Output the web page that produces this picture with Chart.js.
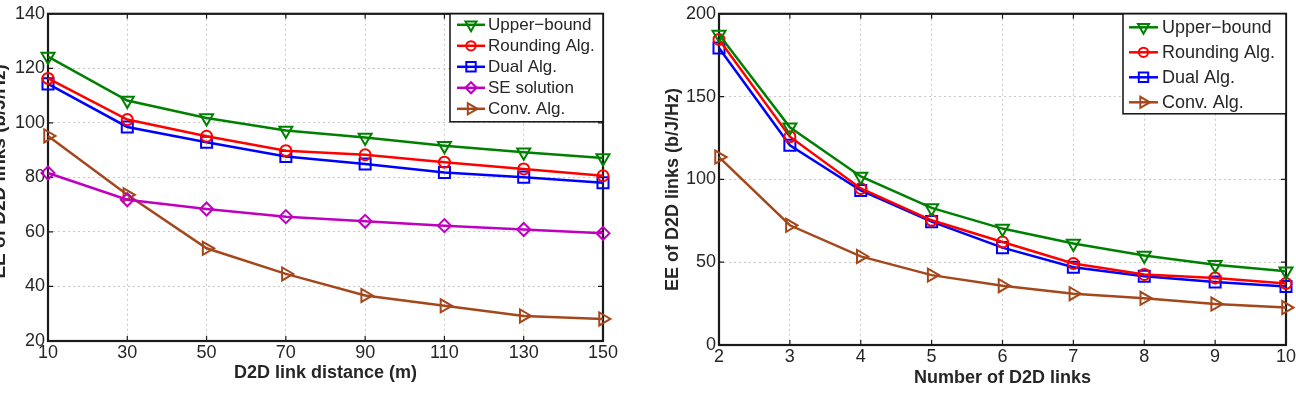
<!DOCTYPE html>
<html>
<head>
<meta charset="utf-8">
<script src="https://cdn.jsdelivr.net/npm/chart.js@4.4.1/dist/chart.umd.min.js"></script>
<style>
  html, body { margin: 0; padding: 0; background: #fff; overflow: hidden; }
  body { width: 1296px; height: 393px; position: relative; }
  .panel { position: absolute; top: 0; }
  #left-panel { left: 0; }
  #right-panel { left: 648px; }
</style>
</head>
<body>
<div class="panel" id="left-panel"><canvas id="distChart" width="648" height="393"></canvas></div>
<div class="panel" id="right-panel"><canvas id="numChart" width="670" height="393"></canvas></div>
<script>
// left plot: EE vs D2D link distance
const distances = [10, 30, 50, 70, 90, 110, 130, 150];
const upperDist = [124.3, 108.2, 101.8, 97.2, 94.6, 91.6, 89.2, 87.1];
const roundDist = [116.3, 101.2, 95.1, 89.8, 88.3, 85.6, 83.1, 80.6];
const dualDist = [114.3, 98.5, 92.9, 87.7, 84.9, 81.8, 80.1, 78.0];
const seDist = [81.6, 71.8, 68.4, 65.6, 63.9, 62.3, 60.9, 59.5];
const convDist = [95.2, 73.6, 54.0, 44.6, 36.7, 32.9, 29.2, 28.1];

// right plot: EE vs number of D2D links
const linkCounts = [2, 3, 4, 5, 6, 7, 8, 9, 10];
const upperNum = [187.5, 131.5, 101.8, 82.8, 70.3, 61.3, 54.0, 48.5, 44.5];
const roundNum = [184.5, 125.8, 94.5, 75.3, 62.2, 49.2, 42.6, 40.5, 37.2];
const dualNum = [179.3, 120.6, 93.3, 74.5, 58.8, 47.0, 41.5, 38.1, 35.3];
const convNum = [113.5, 72.3, 53.5, 42.2, 35.8, 31.0, 28.2, 24.7, 22.6];

const FONT = "'Liberation Sans', Arial, Helvetica, sans-serif";
const TEXT = '#262626';

const SERIES = {
    upper: { label: 'Upper\u2212bound', color: '#008000', style: 'triangle', rot: 180, r: 7.5 },
    round: { label: 'Rounding Alg.', color: '#ff0000', style: 'circle', rot: 0, r: 5.5 },
    dual: { label: 'Dual Alg.', color: '#0000ff', style: 'rect', rot: 0, r: 7.8 },
    se: { label: 'SE solution', color: '#c000c0', style: 'rectRot', rot: 0, r: 6.5 },
    conv: { label: 'Conv. Alg.', color: '#a4481c', style: 'triangle', rot: 90, r: 7.5 }
};

function makeDataset(key, xs, ys) {
    const s = SERIES[key];
    return {
        label: s.label,
        data: xs.map((x, i) => ({ x: x, y: ys[i] })),
        borderColor: s.color,
        backgroundColor: 'rgba(0,0,0,0)',
        borderWidth: 2.5,
        pointStyle: s.style,
        pointRotation: s.rot,
        pointRadius: s.r,
        pointBorderWidth: 2,
        pointBackgroundColor: 'rgba(0,0,0,0)',
        pointBorderColor: s.color,
        tension: 0,
        clip: false
    };
}

// black box + inward tick marks, drawn under the data like matlab
const boxPlugin = {
    id: 'matlabBox',
    beforeDatasetsDraw(chart) {
        const { ctx, chartArea: a, scales } = chart;
        ctx.save();
        ctx.strokeStyle = '#1a1a1a';
        ctx.lineWidth = 1.2;
        ctx.beginPath();
        scales.x.ticks.forEach(t => {
            const px = scales.x.getPixelForValue(t.value);
            ctx.moveTo(px, a.bottom); ctx.lineTo(px, a.bottom - 5);
            ctx.moveTo(px, a.top); ctx.lineTo(px, a.top + 5);
        });
        scales.y.ticks.forEach(t => {
            const py = scales.y.getPixelForValue(t.value);
            ctx.moveTo(a.left, py); ctx.lineTo(a.left + 5, py);
            ctx.moveTo(a.right, py); ctx.lineTo(a.right - 5, py);
        });
        ctx.stroke();
        ctx.lineWidth = 2.2;
        ctx.strokeRect(a.left, a.top, a.right - a.left, a.bottom - a.top);
        ctx.restore();
    }
};

// rotated y title (left one runs off the page edge in the original)
const yTitlePlugin = {
    id: 'yTitle',
    afterDraw(chart, args, opts) {
        const { ctx, chartArea: a } = chart;
        ctx.save();
        ctx.translate(opts.x, (a.top + a.bottom) / 2 + opts.dy);
        ctx.rotate(-Math.PI / 2);
        ctx.font = `bold ${opts.size}px ${FONT}`;
        ctx.fillStyle = TEXT;
        ctx.textAlign = 'center';
        ctx.textBaseline = 'alphabetic';
        ctx.fillText(opts.text, 0, 0);
        ctx.restore();
    }
};

// boxed legend in the top right corner of the axes
const boxLegendPlugin = {
    id: 'boxLegend',
    afterDraw(chart, args, opts) {
        const { ctx, chartArea: a } = chart;
        const left = a.right - opts.width;
        const top = a.top;
        ctx.save();
        ctx.fillStyle = '#fff';
        ctx.fillRect(left, top, opts.width, opts.height);
        ctx.strokeStyle = '#111';
        ctx.lineWidth = 1.5;
        ctx.strokeRect(left, top, opts.width, opts.height);
        chart.data.datasets.forEach((ds, i) => {
            const y = top + opts.first + i * opts.step;
            const x0 = left + opts.lineFrom;
            const x1 = left + opts.lineTo;
            ctx.strokeStyle = ds.borderColor;
            ctx.lineWidth = ds.borderWidth;
            ctx.beginPath();
            ctx.moveTo(x0, y);
            ctx.lineTo(x1, y);
            ctx.stroke();
            ctx.fillStyle = 'rgba(0,0,0,0)';
            ctx.lineWidth = ds.pointBorderWidth;
            Chart.helpers.drawPoint(ctx, {
                pointStyle: ds.pointStyle,
                rotation: ds.pointRotation,
                radius: ds.pointRadius * 0.85,
                borderWidth: ds.pointBorderWidth
            }, (x0 + x1) / 2, y);
            ctx.fillStyle = TEXT;
            ctx.font = `${opts.size}px ${FONT}`;
            ctx.textAlign = 'left';
            ctx.textBaseline = 'middle';
            ctx.fillText(ds.label, left + opts.textX, y + 1);
        });
        ctx.restore();
    }
};

function makeChart(canvasId, cfg) {
    const ctx = document.getElementById(canvasId).getContext('2d');
    return new Chart(ctx, {
        type: 'line',
        data: { datasets: cfg.datasets },
        options: {
            responsive: false,
            animation: false,
            devicePixelRatio: 1,
            layout: { padding: cfg.padding },
            plugins: {
                legend: { display: false },
                tooltip: { enabled: false },
                yTitle: cfg.yTitle,
                boxLegend: cfg.legend
            },
            scales: {
                x: {
                    type: 'linear',
                    min: cfg.xMin,
                    max: cfg.xMax,
                    afterFit: s => { s.height = cfg.xAxisHeight; },
                    ticks: {
                        stepSize: cfg.xStep,
                        color: TEXT,
                        font: { family: FONT, size: 18 },
                        padding: 1,
                        maxRotation: 0
                    },
                    grid: { color: '#c8c8c8', lineWidth: 1, drawTicks: false },
                    border: { display: false, dash: [2, 3] },
                    title: {
                        display: true,
                        text: cfg.xTitle,
                        color: TEXT,
                        font: { family: FONT, size: 18, weight: 'bold' },
                        padding: { top: 0, bottom: cfg.xTitlePad }
                    }
                },
                y: {
                    min: cfg.yMin,
                    max: cfg.yMax,
                    afterFit: s => { s.width = cfg.yAxisWidth; },
                    ticks: {
                        stepSize: cfg.yStep,
                        color: TEXT,
                        font: { family: FONT, size: 18 },
                        padding: 3
                    },
                    grid: { color: '#c8c8c8', lineWidth: 1, drawTicks: false },
                    border: { display: false, dash: [2, 3] }
                }
            }
        },
        plugins: [boxPlugin, yTitlePlugin, boxLegendPlugin]
    });
}

makeChart('distChart', {
    datasets: [
        makeDataset('upper', distances, upperDist),
        makeDataset('round', distances, roundDist),
        makeDataset('dual', distances, dualDist),
        makeDataset('se', distances, seDist),
        makeDataset('conv', distances, convDist)
    ],
    padding: { left: 0, right: 45, top: 13, bottom: 0 },
    xMin: 10, xMax: 150, xStep: 20,
    yMin: 20, yMax: 140, yStep: 20,
    xAxisHeight: 52, yAxisWidth: 48,
    xTitle: 'D2D link distance (m)', xTitlePad: 9,
    yTitle: { text: 'EE of D2D links (b/J/Hz)', x: 5, dy: -6, size: 19 },
    legend: { width: 153, height: 108, first: 11, step: 21, lineFrom: 7, lineTo: 35, textX: 38, size: 17 }
});

makeChart('numChart', {
    datasets: [
        makeDataset('upper', linkCounts, upperNum),
        makeDataset('round', linkCounts, roundNum),
        makeDataset('dual', linkCounts, dualNum),
        makeDataset('conv', linkCounts, convNum)
    ],
    padding: { left: 0, right: 32, top: 8, bottom: 0 },
    xMin: 2, xMax: 10, xStep: 1,
    yMin: 0, yMax: 200, yStep: 50,
    xAxisHeight: 48, yAxisWidth: 71,
    xTitle: 'Number of D2D links', xTitlePad: 4,
    yTitle: { text: 'EE of D2D links (b/J/Hz)', x: 30, dy: 10, size: 18 },
    legend: { width: 163, height: 100, first: 13.5, step: 25, lineFrom: 6, lineTo: 35, textX: 39, size: 18 }
});
</script>
</body>
</html>
